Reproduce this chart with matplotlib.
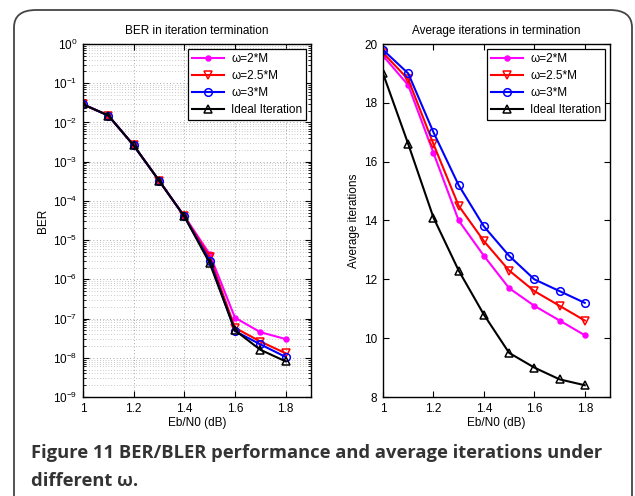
import matplotlib
matplotlib.use("Agg")
import matplotlib.pyplot as plt
from matplotlib.patches import FancyBboxPatch
from matplotlib.ticker import LogLocator, NullFormatter

plt.rcParams['font.family'] = ['Liberation Sans', 'DejaVu Sans']

ebn0 = [1.0, 1.1, 1.2, 1.3, 1.4, 1.5, 1.6, 1.7, 1.8]
labels = ['ω=2*M', 'ω=2.5*M', 'ω=3*M', 'Ideal Iteration']

ber_w2 = [2.9e-2, 1.5e-2, 2.6e-3, 3.3e-4, 4.1e-5, 4.4e-6, 1.05e-7, 4.5e-8, 3.0e-8]
ber_w25 = [2.9e-2, 1.5e-2, 2.6e-3, 3.3e-4, 4.0e-5, 3.7e-6, 5.8e-8, 2.6e-8, 1.3e-8]
ber_w3 = [2.9e-2, 1.5e-2, 2.6e-3, 3.3e-4, 4.0e-5, 3.0e-6, 4.8e-8, 2.2e-8, 1.05e-8]
ber_ideal = [2.9e-2, 1.5e-2, 2.6e-3, 3.3e-4, 4.0e-5, 2.6e-6, 5.0e-8, 1.6e-8, 8.1e-9]

it_w2 = [19.6, 18.6, 16.3, 14.0, 12.8, 11.7, 11.1, 10.6, 10.1]
it_w25 = [19.7, 18.8, 16.6, 14.5, 13.3, 12.3, 11.6, 11.1, 10.6]
it_w3 = [19.8, 19.0, 17.0, 15.2, 13.8, 12.8, 12.0, 11.6, 11.2]
it_ideal = [19.0, 16.6, 14.1, 12.3, 10.8, 9.5, 9.0, 8.6, 8.4]

caption = 'Figure 11 BER/BLER performance and average iterations under\ndifferent ω.'

styles = [
    dict(color='#ff00ff', marker='o', markersize=3.5, markerfacecolor='#ff00ff'),
    dict(color='#ff0000', marker='v', markersize=5.5, markerfacecolor='none'),
    dict(color='#0000ff', marker='o', markersize=5.5, markerfacecolor='none'),
    dict(color='#000000', marker='^', markersize=5.5, markerfacecolor='none'),
]

W, H = 635, 496
fig = plt.figure(figsize=(W / 100, H / 100), dpi=100)

frame = FancyBboxPatch((14 / W, -0.1), (632 - 14) / W, (H - 10) / H + 0.1,
                       boxstyle="round,pad=0,rounding_size=0.035",
                       transform=fig.transFigure, fill=False,
                       edgecolor='#444444', linewidth=1.3, clip_on=False)
fig.patches.append(frame)

def ax_rect(l, t, r, b):
    return [l / W, 1 - b / H, (r - l) / W, (b - t) / H]

ax1 = fig.add_axes(ax_rect(83, 44, 311, 397))
ax2 = fig.add_axes(ax_rect(383, 44, 610, 397))

fs = 8.5
for ys, st, lb in zip([ber_w2, ber_w25, ber_w3, ber_ideal], styles, labels):
    ax1.semilogy(ebn0, ys, linewidth=1.5, markeredgewidth=1.1, label=lb, **st)
ax1.set_xlim(1, 1.9)
ax1.set_ylim(1e-9, 1)
ax1.yaxis.set_major_locator(LogLocator(base=10, numticks=20))
ax1.yaxis.set_minor_locator(LogLocator(base=10, subs=range(2, 10), numticks=20))
ax1.yaxis.set_minor_formatter(NullFormatter())
ax1.set_xticks([1, 1.2, 1.4, 1.6, 1.8])
ax1.set_xticklabels(['1', '1.2', '1.4', '1.6', '1.8'])
ax1.grid(True, which='major', linestyle=(0, (1, 3)), color='#8a8a8a', linewidth=0.6)
ax1.grid(True, which='minor', axis='y', linestyle=(0, (1, 3)), color='#9a9a9a', linewidth=0.5)
ax1.set_axisbelow(True)
ax1.set_title('BER in iteration termination', fontsize=fs, pad=7)
ax1.set_xlabel('Eb/N0 (dB)', fontsize=fs, labelpad=2)
ax1.set_ylabel('BER', fontsize=fs, labelpad=3)

for ys, st, lb in zip([it_w2, it_w25, it_w3, it_ideal], styles, labels):
    ax2.plot(ebn0, ys, linewidth=1.5, markeredgewidth=1.1, label=lb, **st)
ax2.set_xlim(1, 1.9)
ax2.set_ylim(8, 20)
ax2.set_yticks([8, 10, 12, 14, 16, 18, 20])
ax2.set_xticks([1, 1.2, 1.4, 1.6, 1.8])
ax2.set_xticklabels(['1', '1.2', '1.4', '1.6', '1.8'])
ax2.set_title('Average iterations in termination', fontsize=fs, pad=7)
ax2.set_xlabel('Eb/N0 (dB)', fontsize=fs, labelpad=2)
ax2.set_ylabel('Average iterations', fontsize=fs, labelpad=3)

for ax in (ax1, ax2):
    ax.tick_params(direction='in', top=True, right=True, labelsize=fs, length=4, width=0.8, pad=4)
    ax.tick_params(which='minor', direction='in', top=True, right=True, length=2)
    for s in ax.spines.values():
        s.set_linewidth(1.0)
    leg = ax.legend(loc='upper right', fontsize=fs, frameon=True, fancybox=False,
                    edgecolor='black', framealpha=1, borderpad=0.35, labelspacing=0.42,
                    handlelength=2.7, handletextpad=0.6, borderaxespad=0.4)
    leg.get_frame().set_linewidth(0.9)

cap_font = ['Open Sans', 'DejaVu Sans']
fig.text(31 / W, 1 - 467 / H, caption, linespacing=1.72,
         fontsize=13.2, fontweight='bold', family=cap_font, color='#333333',
         va='center', ha='left', multialignment='left')

fig.savefig('out.png', dpi=100)
